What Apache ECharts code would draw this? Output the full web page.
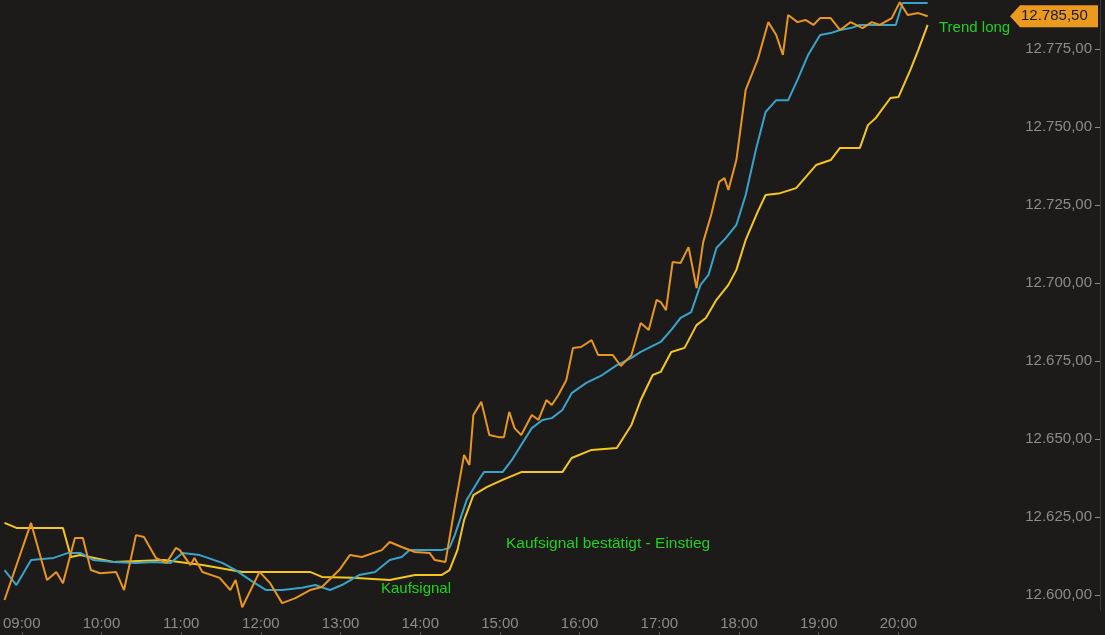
<!DOCTYPE html>
<html>
<head>
<meta charset="utf-8">
<script src="https://cdn.jsdelivr.net/npm/echarts@6/dist/echarts.min.js"></script>
<style>html,body{margin:0;padding:0;background:#1c1b1a}#chart{width:1105px;height:635px}</style>
</head>
<body>
<div id="chart"></div>
<script>
// Kurs (orange)
var priceTimes = ['08:47','09:07','09:19','09:26','09:31','09:40','09:46','09:52','09:59','10:11','10:17','10:26','10:32','10:41','10:49','10:56','10:59','11:07','11:10','11:16','11:29','11:37','11:41','11:46','11:59','12:07','12:16','12:26','12:37','12:46','12:59','13:07','13:16','13:31','13:37','13:46','13:56','14:07','14:11','14:19','14:26','14:33','14:37','14:40','14:46','14:52','14:59','15:03','15:07','15:11','15:16','15:24','15:29','15:35','15:39','15:44','15:50','15:55','16:01','16:09','16:14','16:25','16:31','16:39','16:46','16:52','16:58','17:01','17:05','17:10','17:16','17:22','17:28','17:33','17:39','17:45','17:49','17:52','17:58','18:05','18:14','18:22','18:28','18:33','18:37','18:44','18:50','18:56','19:01','19:09','19:16','19:24','19:33','19:40','19:46','19:55','20:01','20:07','20:15','20:22'];
var priceValues = [12598.4,12623.1,12604.8,12607.4,12603.8,12618.3,12618.3,12608.0,12607.0,12607.4,12601.6,12619.2,12618.6,12611.9,12610.3,12615.1,12614.4,12609.6,12611.9,12607.4,12605.5,12601.6,12604.8,12596.1,12607.4,12603.8,12597.4,12599.0,12601.6,12602.6,12608.0,12612.8,12612.2,12614.4,12617.0,12615.4,12613.8,12613.5,12611.2,12610.6,12628.2,12644.9,12641.7,12657.7,12661.9,12651.3,12650.6,12650.6,12658.7,12653.5,12651.3,12657.7,12656.1,12662.5,12660.9,12664.1,12668.9,12679.2,12679.5,12681.7,12676.9,12676.9,12673.4,12676.9,12687.2,12684.9,12694.6,12693.9,12691.3,12706.7,12706.4,12711.5,12698.4,12713.1,12721.8,12732.4,12733.6,12729.8,12739.4,12761.9,12771.5,12783.6,12779.5,12773.1,12785.9,12783.6,12784.3,12782.7,12784.9,12784.9,12781.1,12783.6,12781.7,12783.6,12782.7,12784.9,12790.0,12785.9,12786.5,12785.5];
// schneller Durchschnitt (blau)
var fastTimes = ['08:47','08:56','09:07','09:24','09:35','09:44','09:54','10:09','10:26','10:39','10:52','11:01','11:14','11:31','11:41','11:54','12:04','12:16','12:31','12:41','12:52','13:01','13:14','13:26','13:37','13:46','13:52','14:16','14:22','14:26','14:35','14:45','14:48','15:02','15:09','15:16','15:24','15:32','15:39','15:47','15:54','16:05','16:17','16:28','16:39','16:46','17:01','17:09','17:16','17:24','17:31','17:37','17:43','17:50','17:58','18:05','18:13','18:20','18:28','18:37','18:44','18:52','19:01','19:09','19:16','19:24','19:31','19:58','20:03','20:22'];
var fastValues = [12608.0,12603.2,12611.2,12611.9,12613.5,12613.5,12611.2,12610.6,12610.3,12610.6,12610.3,12613.5,12612.8,12610.3,12608.0,12604.2,12601.6,12601.6,12602.3,12603.2,12601.6,12603.2,12606.4,12607.4,12611.2,12612.2,12614.4,12614.4,12615.1,12619.2,12630.5,12637.5,12639.4,12639.4,12643.3,12648.1,12653.5,12656.1,12656.7,12659.3,12664.7,12668.0,12670.5,12673.7,12676.0,12677.9,12681.1,12685.0,12688.8,12690.7,12699.4,12702.6,12711.2,12714.4,12718.6,12728.2,12743.3,12754.8,12758.6,12758.6,12765.1,12773.1,12779.5,12780.1,12781.1,12781.7,12782.7,12782.7,12789.7,12789.7];
// langsamer Durchschnitt (gelb)
var slowTimes = ['08:47','08:56','09:31','09:37','09:44','10:09','10:47','11:16','11:46','12:37','12:46','13:09','13:37','13:56','14:16','14:22','14:28','14:33','14:40','14:50','15:02','15:16','15:47','15:54','16:09','16:28','16:39','16:46','16:55','17:01','17:09','17:19','17:28','17:35','17:43','17:52','17:58','18:05','18:14','18:20','18:31','18:43','18:58','19:09','19:16','19:31','19:37','19:43','19:54','20:00','20:09','20:15','20:22'];
var slowValues = [12623.1,12621.5,12621.5,12612.2,12612.8,12610.6,12611.2,12609.6,12607.4,12607.4,12605.8,12605.5,12604.8,12606.4,12606.4,12608.0,12614.4,12624.0,12632.0,12634.6,12636.9,12639.4,12639.4,12643.9,12646.5,12647.1,12654.5,12662.5,12670.5,12671.5,12677.9,12679.2,12686.5,12688.8,12694.6,12699.4,12704.2,12713.8,12722.8,12728.2,12728.8,12730.4,12737.8,12739.4,12743.3,12743.3,12750.6,12752.9,12759.3,12759.6,12768.3,12774.7,12782.7];
var yTicks = [12600,12625,12650,12675,12700,12725,12750,12775];
var xTicks = [540,600,660,720,780,840,900,960,1020,1080,1140,1200];
var lastPrice = 12785.5;

function mins(t){ var p = t.split(':'); return +p[0]*60 + +p[1]; }
function pairs(ts, vs){ return ts.map(function(t,i){ return [mins(t), vs[i]]; }); }
function fmtNum(v){
    var s = v.toFixed(2).replace('.', ',');
    return s.replace(/^(\d+)(\d{3}),/, '$1.$2,');
}
function fmtTime(m){ var h = Math.floor(m/60); return (h<10?'0':'')+h+':00'; }

var chart = echarts.init(document.getElementById('chart'));
var grey = '#8c8c8c';
var option = {
    backgroundColor: '#1c1b1a',
    animation: false,
    grid: { left: 0, right: 95, top: 0, bottom: 25 },
    xAxis: [
        {
            type: 'value', min: 526.5, max: 1284, interval: 60,
            axisLine: { show: false }, axisTick: { show: false }, splitLine: { show: false },
            axisLabel: { color: grey, fontSize: 15, margin: 6, fontFamily: 'Arial', formatter: fmtTime, customValues: xTicks }
        },
        {
            type: 'value', min: 526.5, max: 1284, position: 'bottom', offset: 22,
            axisLine: { show: false }, axisLabel: { show: false }, splitLine: { show: false },
            axisTick: { show: true, length: 4, lineStyle: { color: '#555' }, customValues: xTicks }
        }
    ],
    yAxis: {
        type: 'value', position: 'right', offset: 90, min: 12595.2, max: 12790.7,
        axisLine: { show: true, lineStyle: { color: '#3a3a3a' } },
        axisTick: { show: true, inside: true, length: 5, lineStyle: { color: grey }, customValues: yTicks },
        axisLabel: { inside: true, margin: 8, color: grey, fontSize: 15, fontFamily: 'Arial', formatter: fmtNum, customValues: yTicks },
        splitLine: { show: false }
    },
    series: [
        { type: 'line', data: pairs(slowTimes, slowValues), showSymbol: false, lineStyle: { color: '#f6c71a', width: 2 } },
        { type: 'line', data: pairs(fastTimes, fastValues), showSymbol: false, lineStyle: { color: '#38a3cc', width: 2 } },
        { type: 'line', data: pairs(priceTimes, priceValues), showSymbol: false, lineStyle: { color: '#e8961e', width: 2 } }
    ],
    graphic: [
        { type: 'text', left: 381, top: 581, style: { text: 'Kaufsignal', fill: '#1ed21e', font: '15px Arial' } },
        { type: 'text', left: 506, top: 536, style: { text: 'Kaufsignal bestätigt - Einstieg', fill: '#1ed21e', font: '15.5px Arial' } },
        { type: 'text', left: 939, top: 20, style: { text: 'Trend long', fill: '#1ed21e', font: '15px Arial' } }
    ]
};
chart.setOption(option);

// Kursmarke rechts
var py = chart.convertToPixel({ yAxisIndex: 0 }, lastPrice);
chart.setOption({ graphic: option.graphic.concat([
    { type: 'polygon', shape: { points: [[1010, py], [1020, py-11], [1098, py-11], [1098, py+11], [1020, py+11]] }, style: { fill: '#eb9a1f' } },
    { type: 'text', left: 1021, top: py-8, style: { text: fmtNum(lastPrice), fill: '#1a1a1a', font: '15px Arial' } }
]) });
</script>
</body>
</html>
